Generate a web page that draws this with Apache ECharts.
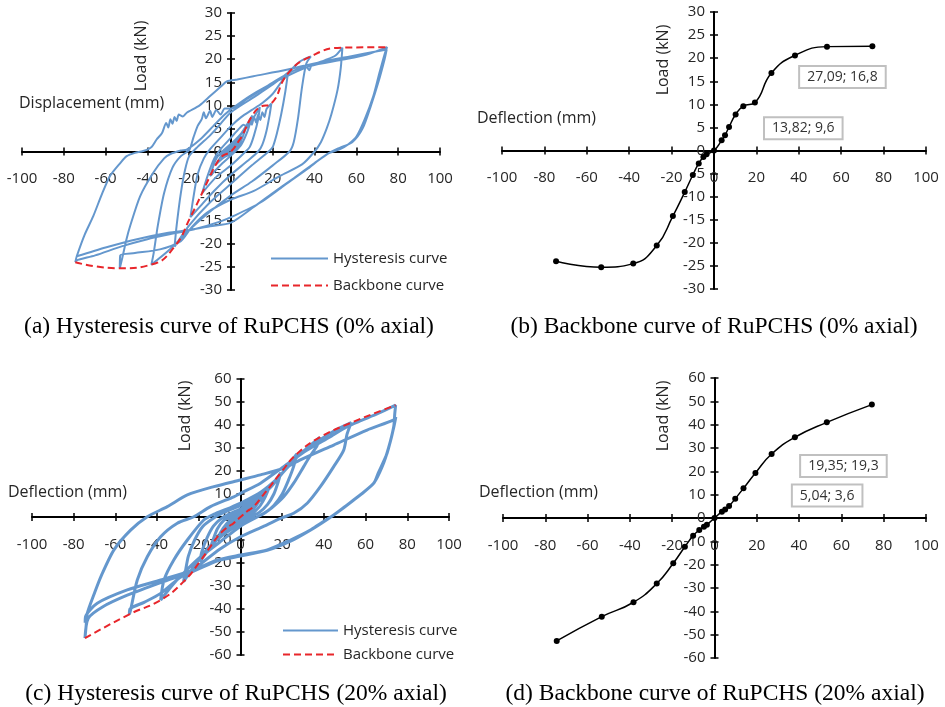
<!DOCTYPE html>
<html>
<head>
<meta charset="utf-8">
<script src="https://cdn.jsdelivr.net/npm/echarts@6/dist/echarts.min.js"></script>
<style>
  html, body { margin: 0; padding: 0; background: #fff; }
  #main { width: 945px; height: 707px; }
</style>
</head>
<body>
<div id="main"></div>
<script>
// ---- backbone points (b) 0% axial ----
var deflB = [-74.5, -53.2, -38.1, -27, -19.4, -13.8, -10, -7.2, -5, -3.5, 0, 3.6, 5.2, 7.1, 10.2, 13.82, 19.3, 27.09, 38.2, 53.3, 74.7];
var loadB = [-24, -25.3, -24.5, -20.6, -14.2, -9, -5.3, -2.8, -1.4, -0.8, 0, 2.2, 3.3, 5.1, 7.8, 9.6, 10.4, 16.8, 20.6, 22.5, 22.6];
// ---- backbone points (d) 20% axial ----
var deflD = [-74.6, -53.3, -38.3, -27.3, -19.5, -14, -10.1, -7.2, -5, -3.6, 0, 3.5, 5.04, 6.9, 9.8, 13.7, 19.35, 27, 38, 53.1, 74.4];
var loadD = [-52.7, -42.3, -36.1, -28.1, -19.4, -12.3, -7.6, -5.1, -3.7, -2.9, 0, 2.7, 3.6, 5.1, 8.3, 12.7, 19.3, 27.4, 34.6, 41, 48.6];

// labelled points: [deflection, load, text]
var notesB = [[27.09, 16.8, '27,09; 16,8'], [13.82, 9.6, '13,82; 9,6']];
var notesD = [[19.35, 19.3, '19,35; 19,3'], [5.04, 3.6, '5,04; 3,6']];

// ---- hysteresis (a) 0% axial, loop by loop ----
var smallA = [[0,0],[3.6,2.2],[2,0.8],[0,-0.2],[-3.5,-0.8],[0,0.6],[5.2,3.3],[3,1],[0,-0.3],[-5,-1.4],[-2,0],[2,2],[7.1,5.1],[5,2.5],[2,0],[-3,-1.2],[-7.2,-2.8],[-4,-0.5],[0,1.5],[5,4],[10.2,7.8],[8,4.5],[5,1.5],[2,0],[-4,-2.5],[-10,-5.3]];
var up14A = [[-10,-5.3],[-7,-1.5],[-3,0.5],[2,2.5],[7,5],[11,7.5],[13.8,9.6]];
var down14A = [[13.8,9.6],[13,7],[11,3.5],[9,1],[7,0],[0,-3],[-7,-5.5],[-13.8,-9]];
var up19A = [[-13.8,-9],[-11,-5],[-8,-1.5],[-5,0.5],[0,3],[4,5],[6,5.8],[8,5.2],[9,7],[10,5.8],[11,7.5],[12,6.3],[13,8],[14,6.8],[15,8.5],[16,7.5],[17,9.2],[19.3,10.4]];
var down19A = [[19.3,10.4],[18.5,8],[17,4.5],[15,1.5],[13,0],[8,-2],[0,-5],[-8,-8.5],[-14,-11.5],[-19.4,-14.2]];
var up27A = [[-19.4,-14.2],[-18,-10],[-16,-5],[-13,-1.5],[-10,0.5],[-5,3],[0,5.5],[5,7.5],[10,9],[15,10.5],[20,12.5],[24,15],[27.2,16.8]];
var down27A = [[27.2,16.8],[26,13],[24,8],[22,4],[20,1],[18,0],[10,-3],[0,-7],[-10,-11],[-20,-16],[-27,-20.6]];
var up38A = [[-27,-20.6],[-26,-16],[-24,-9],[-22,-4],[-20,-1],[-16,1],[-10,3.5],[-5,6],[0,8.5],[10,11.5],[20,14.5],[27,17],[33,19.5],[38.2,20.6]];
var down38A = [[38.2,20.6],[36,19],[34,14],[32,7],[30,2],[28,0],[20,-3],[10,-6.5],[0,-9.5],[-10,-13],[-20,-17],[-30,-21.5],[-38.1,-24.5]];
var up53A = [[-38.1,-24.5],[-37,-22],[-35,-16],[-32,-9],[-28,-3.5],[-24,-1],[-20,0.3],[-18,3],[-16,5.5],[-14,7],[-13,8.5],[-12,7.2],[-10,8.8],[-9,7.5],[-7,9],[-5,8],[-3,9.3],[0,9.3],[8,11.5],[15,13.5],[22,15.5],[30,17.5],[36,18.3],[37.5,17.6],[38.5,18.6],[45,19.8],[50,20.8],[53.3,22.5]];
var down53A = [[53.3,22.5],[52.5,18],[51,13.4],[48,8],[45.8,5],[43,2],[40,0],[34,-2.8],[23.4,-5.3],[10.7,-8.6],[0,-10.4],[-11.6,-13.3],[-19,-16.5],[-24,-19.4],[-34,-21.2],[-46,-22],[-53,-22.5],[-53.2,-25.3]];
var up74A = [[-53.2,-25.3],[-52,-23],[-50,-19],[-48.3,-16.2],[-43.5,-9.7],[-37.2,-4.6],[-32,-1.5],[-29.2,-0.6],[-24,0.2],[-21.2,0.4],[-14.8,2.6],[-8.5,5.5],[-3,8],[1.1,9.5],[9,12],[17,14.1],[26.6,16.3],[37.8,18.5],[53.7,19.9],[65,21],[74.7,22.6]];
var down74A = [[74.7,22.6],[73.7,21.4],[71,17],[68.1,12],[64,7],[60.1,3.3],[56,1.5],[52.2,0.5],[45.8,-0.6],[36.2,-3.9],[25,-7.5],[13.9,-11.1],[1.1,-14],[-5.3,-15.2],[-18,-16.9],[-30,-18],[-40,-19],[-52,-20.5],[-65,-22.5],[-74,-23.6],[-74.5,-24]];
var up74bA = [[-74.5,-24],[-73.8,-22.7],[-70,-18],[-65.9,-14],[-62,-9.5],[-57.9,-5.3],[-53,-2.5],[-49.9,-1],[-46,-0.3],[-42,0.1],[-38,1],[-35.6,2.6],[-33,4],[-31,6.2],[-30,5.2],[-29,7],[-28,6],[-27,7.5],[-26,6.6],[-25,8],[-23,7.6],[-21.2,8.4],[-15,10],[-10,12],[-5,14],[-2,15.2],[3,15.6],[10.7,16.3],[26.6,17.7],[41,19.2],[57,20.6],[70,21.7],[74.5,22.1]];
var down74bA = [[74.5,22.1],[73.5,20],[70.5,15],[67,10],[63,5],[58,2],[52,0.8],[47,-0.3],[40,-2.5],[30,-5.8],[20,-9],[10,-12.3],[0,-15.4],[-10,-16.2],[-20,-17],[-30,-17.6],[-45,-19],[-60,-20.8],[-73.8,-22.7]];

// ---- hysteresis (c) 20% axial, loop by loop ----
var smallC = [[0,0],[3.5,2.7],[1.5,0.8],[0,-0.5],[-3.6,-2.9],[-1,-0.8],[1,0.8],[5,3.6],[3,1.5],[0,-1],[-5,-3.7],[-3,-1.5],[0,0.5],[3.5,2.5],[6.9,5.1],[4.5,2.5],[2,0.5],[0,-1],[-3.5,-2.6],[-7.2,-5.1],[-5,-2.5],[-2,0],[2,1.8],[6,4.5],[9.8,8.3],[7.5,5],[4.5,2],[2,0],[-3,-2.5],[-6.5,-4.8],[-10.1,-7.6]];
var loop14C = [[-10.1,-7.6],[-8,-4.5],[-5,-1.5],[-2,0.5],[3,2.5],[8,6],[11,9],[13.7,12.7],[12,9],[9.5,5],[7,2.5],[4,0],[0,-2],[-5,-4.5],[-10,-8],[-14,-12.3]];
var up19C = [[-14,-12.3],[-13,-9.5],[-11,-5],[-8,-1.5],[-4,0.5],[0,2.5],[6,5.5],[12,11],[16,15],[19.35,19.3]];
var down19C = [[19.35,19.3],[18,15],[16,10],[13,5.5],[9,2],[5,0],[0,-2.5],[-7,-6.5],[-13,-11.5],[-19.5,-19.4]];
var up27C = [[-19.5,-19.4],[-18.5,-15],[-16,-9],[-13,-4],[-9,-0.5],[-5,1.5],[0,3.5],[7,7.5],[14,12.5],[20,19],[27,27.4]];
var down27C = [[27,27.4],[25.5,22],[23,16],[20,10],[16,5],[12,2],[8,0],[0,-3],[-8,-7.5],[-15,-13],[-22,-21],[-27.3,-28.1]];
var up38C = [[-27.3,-28.1],[-26.5,-24],[-25,-17],[-22,-10],[-18,-4],[-13,-0.5],[-8,2],[0,5],[8,9],[15,14],[21,20],[27,26],[32,30],[38,34.6]];
var down38C = [[38,34.6],[36.7,31],[33,26],[30.3,21.9],[25.5,14.7],[20.7,8.8],[15,4],[11.2,1.6],[8,0],[0,-4],[-10,-11],[-20,-18],[-28,-25],[-33,-30],[-38.3,-36.1]];
var up53C = [[-38.3,-36.1],[-36.7,-27.4],[-32,-18.7],[-25.5,-10],[-17.6,-1.3],[-12,1.5],[-5,4],[0,6],[10,11],[18,17],[24,23],[30,28.5],[38,33.5],[45,37.5],[53.1,41]];
var down53C = [[53.1,41],[51.1,36],[49.5,29.1],[44.7,21.9],[38.3,13.2],[32,6],[25.5,1.6],[19.2,-0.6],[10,-4.5],[0,-8.6],[-10,-14],[-20,-21],[-30,-27],[-38.3,-33.2],[-46,-37],[-53,-40],[-53.3,-42.3]];
var up74C = [[-53.3,-42.3],[-52.7,-40.4],[-49.5,-27.4],[-44.7,-17.3],[-38.3,-8.6],[-30.3,-2.7],[-22.4,0.1],[-14.4,4.5],[-3.2,8.8],[0,10.3],[9.6,14.7],[20.7,21.9],[32,29.1],[43.1,34.9],[51.1,39.3],[58,42],[66,45],[74.4,48.6]];
var down74C = [[74.4,48.6],[74,45],[73.5,39.3],[71,30],[68,22],[63.9,14.7],[58,10],[50,4.5],[44.7,0.9],[38,-3],[33.5,-5.7],[24,-10.5],[12.8,-14.5],[0,-17],[-11,-19],[-22.4,-23.5],[-38.3,-28.5],[-54.3,-34],[-66,-39],[-73,-44],[-74.6,-52.7]];
var up74bC = [[-74.6,-52.7],[-74,-47],[-73.5,-41.9],[-70,-33],[-67,-26],[-60.7,-14.3],[-52.7,-5.7],[-44.7,0.1],[-35.1,4.5],[-25.5,9.6],[-12.8,13.2],[0,16.1],[9.6,18.3],[20.7,21.2],[28.7,24.8],[44.7,31.3],[60.7,37.8],[73.5,42.2],[74.5,43.5]];
var down74bC = [[74.5,43.5],[73.5,39],[70.3,27.7],[66,19],[63.9,14.7],[54.3,7.4],[44.7,0.9],[33.5,-5.7],[24,-10],[12.8,-14.3],[0,-16.5],[-11.2,-18.7],[-22.4,-23],[-38.3,-27.4],[-54.3,-31.7],[-68.7,-37.5],[-74.3,-43.3],[-74.5,-46]];

var hystA = [].concat(smallA, up14A, down14A, up19A, down19A, up27A, down27A, up38A, down38A, up53A, down53A, up74A, down74A, up74bA, down74bA);
var hystC = [].concat(smallC, loop14C, up19C, down19C, up27C, down27C, up38C, down38C, up53C, down53C, up74C, down74C, up74bC, down74bC);

var BLUE = '#6497CD';
var RED = '#E8262B';
var FONT = 'Open Sans';

function pairs(xs, ys) {
  return xs.map(function (x, i) { return [x, ys[i]]; });
}

// backbone data with the two boxed labels
function withNotes(xs, ys, notes, offsets) {
  return pairs(xs, ys).map(function (p) {
    for (var k = 0; k < notes.length; k++) {
      if (notes[k][0] === p[0] && notes[k][1] === p[1]) {
        return {
          value: p,
          label: {
            show: true, position: 'inside', offset: offsets[k],
            formatter: notes[k][2], fontSize: 14, color: '#333', fontFamily: FONT,
            backgroundColor: '#fff', borderColor: '#C0C0C0', borderWidth: 2, padding: [3, 7]
          }
        };
      }
    }
    return p;
  });
}

var grids = [
  { left: 22, top: 13, width: 418, height: 277 },
  { left: 502, top: 12, width: 424, height: 277 },
  { left: 32, top: 379, width: 417, height: 276 },
  { left: 503, top: 378, width: 423, height: 280 }
];

var tick = { show: true, inside: false, length: 4, lineStyle: { color: '#000', width: 1.5 } };

// axes are shifted onto the other axis' zero; each gets a twin so the ticks cross the line
function axisPair(dim, g, min, max, interval, oMin, oMax) {
  var gr = grids[g];
  var span = dim === 'x' ? gr.height : gr.width;
  var fromLow = span * (0 - oMin) / (oMax - oMin);   // distance of zero from bottom / left
  var fromHigh = span - fromLow;
  var base = { type: 'value', gridIndex: g, min: min, max: max, interval: interval, splitLine: { show: false } };
  var main = Object.assign({}, base, {
    position: dim === 'x' ? 'bottom' : 'left',
    offset: -fromLow,
    axisLine: { onZero: false, lineStyle: { color: '#000', width: 2 } },
    axisTick: tick,
    axisLabel: { margin: dim === 'x' ? 20 : 9, fontSize: 15, color: '#262626', fontFamily: FONT }
  });
  var twin = Object.assign({}, base, {
    position: dim === 'x' ? 'top' : 'right',
    offset: -fromHigh,
    axisLine: { show: false, onZero: false },
    axisTick: tick,
    axisLabel: { show: false }
  });
  return [main, twin];
}

var xAxes = [].concat(axisPair('x', 0, -100, 100, 20, -30, 30), axisPair('x', 1, -100, 100, 20, -30, 30),
                      axisPair('x', 2, -100, 100, 20, -60, 60), axisPair('x', 3, -100, 100, 20, -60, 60));
var yAxes = [].concat(axisPair('y', 0, -30, 30, 5, -100, 100), axisPair('y', 1, -30, 30, 5, -100, 100),
                      axisPair('y', 2, -60, 60, 10, -100, 100), axisPair('y', 3, -60, 60, 10, -100, 100));

function txt(x, y, s, opt) {
  return Object.assign({
    type: 'text', x: x, y: y,
    style: { text: s, fontSize: 16, fontFamily: FONT, fill: '#262626', align: 'left', verticalAlign: 'middle' }
  }, opt || {});
}
function vtxt(x, y, s) {
  return txt(x, y, s, { rotation: Math.PI / 2,
    style: { text: s, fontSize: 16, fontFamily: FONT, fill: '#262626', align: 'center', verticalAlign: 'middle' } });
}
function caption(x, y, s) {
  return { type: 'text', x: x, y: y,
    style: { text: s, fontSize: 23.5, fontFamily: 'Liberation Serif', fill: '#000', align: 'center', verticalAlign: 'middle' } };
}

var legendBase = {
  orient: 'vertical', itemWidth: 57, itemHeight: 12,
  data: ['Hysteresis curve', 'Backbone curve'],
  textStyle: { fontSize: 15, color: '#262626', fontFamily: FONT },
  itemStyle: { opacity: 0 },
  selectedMode: false
};

var chart = echarts.init(document.getElementById('main'));
chart.setOption({
  animation: false,
  textStyle: { fontFamily: FONT },
  grid: grids,
  xAxis: xAxes,
  yAxis: yAxes,
  legend: [
    Object.assign({}, legendBase, { left: 265, top: 246, itemGap: 12 }),
    Object.assign({}, legendBase, { left: 277, top: 618, itemWidth: 55, itemGap: 9 })
  ],
  graphic: [
    txt(19, 103, 'Displacement (mm)'), vtxt(141, 56, 'Load (kN)'),
    txt(477, 118, 'Deflection (mm)'), vtxt(663, 60, 'Load (kN)'),
    txt(8, 492, 'Deflection (mm)'), vtxt(185, 416, 'Load (kN)'),
    txt(479, 492, 'Deflection (mm)'), vtxt(663, 416, 'Load (kN)'),
    caption(229, 327, '(a) Hysteresis curve of RuPCHS (0% axial)'),
    caption(714, 327, '(b) Backbone curve of RuPCHS (0% axial)'),
    caption(236, 694, '(c) Hysteresis curve of RuPCHS (20% axial)'),
    caption(715, 694, '(d) Backbone curve of RuPCHS (20% axial)')
  ],
  series: [
    { name: 'Hysteresis curve', type: 'line', xAxisIndex: 0, yAxisIndex: 0, data: hystA,
      showSymbol: false, symbol: 'none', smooth: 0.25, z: 2,
      lineStyle: { color: BLUE, width: 2 }, itemStyle: { color: BLUE } },
    { name: 'Backbone curve', type: 'line', xAxisIndex: 0, yAxisIndex: 0, data: pairs(deflB, loadB),
      symbol: 'none', smooth: true, z: 3,
      lineStyle: { color: RED, width: 2, type: [7, 4] }, itemStyle: { color: RED } },
    { name: 'Backbone b', type: 'line', xAxisIndex: 2, yAxisIndex: 2,
      data: withNotes(deflB, loadB, notesB, [[71, 4], [60, 22]]),
      symbol: 'circle', symbolSize: 6, smooth: true, z: 3,
      lineStyle: { color: '#000', width: 1.5 }, itemStyle: { color: '#000' } },
    { name: 'Hysteresis curve', type: 'line', xAxisIndex: 4, yAxisIndex: 4, data: hystC,
      showSymbol: false, symbol: 'none', smooth: 0.25, z: 2,
      lineStyle: { color: BLUE, width: 3 }, itemStyle: { color: BLUE } },
    { name: 'Backbone curve', type: 'line', xAxisIndex: 4, yAxisIndex: 4, data: pairs(deflD, loadD),
      symbol: 'none', smooth: true, z: 3,
      lineStyle: { color: RED, width: 2, type: [7, 4] }, itemStyle: { color: RED } },
    { name: 'Backbone d', type: 'line', xAxisIndex: 6, yAxisIndex: 6,
      data: withNotes(deflD, loadD, notesD, [[88, -7], [102, -14]]),
      symbol: 'circle', symbolSize: 6, smooth: true, z: 3,
      lineStyle: { color: '#000', width: 1.5 }, itemStyle: { color: '#000' } }
  ]
});
</script>
</body>
</html>
